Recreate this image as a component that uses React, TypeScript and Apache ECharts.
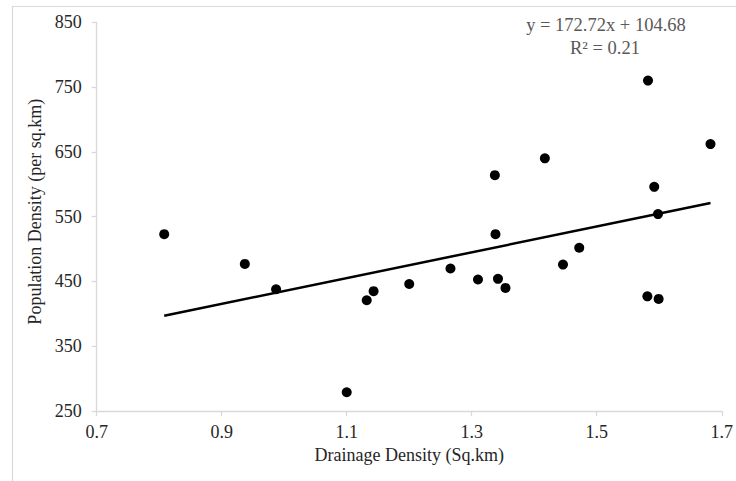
import React, { useEffect, useRef } from "react";
import * as echarts from "echarts";

const drainageDensity = [0.808, 0.937, 0.987, 1.1, 1.132, 1.143, 1.2, 1.266, 1.31, 1.337, 1.338, 1.342, 1.354, 1.417, 1.446, 1.472, 1.581, 1.582, 1.592, 1.598, 1.599, 1.682];
const populationDensity = [523, 477, 438, 279, 421, 435, 446, 470, 453, 614, 523, 454, 440, 640, 476, 502, 427, 760, 596, 554, 423, 662];
const xTicks = [0.7, 0.9, 1.1, 1.3, 1.5, 1.7];
const yTicks = [250, 350, 450, 550, 650, 750, 850];
const equationText = "y = 172.72x + 104.68";
const r2Text = "R² = 0.21";

const FONT = "'Liberation Serif', 'Times New Roman', serif";

export default function App() {
  const ref = useRef<HTMLDivElement>(null);
  useEffect(() => {
    if (!ref.current) return;
    const chart = echarts.init(ref.current, undefined, { renderer: "svg" });
    const pts = drainageDensity.map((x, i) => [x, populationDensity[i]]);
    const n = pts.length;
    const mx = drainageDensity.reduce((a, b) => a + b, 0) / n;
    const my = populationDensity.reduce((a, b) => a + b, 0) / n;
    let sxy = 0, sxx = 0;
    for (let i = 0; i < n; i++) {
      sxy += (drainageDensity[i] - mx) * (populationDensity[i] - my);
      sxx += (drainageDensity[i] - mx) ** 2;
    }
    const slope = sxy / sxx;
    const icpt = my - slope * mx;
    const xMin = Math.min(...drainageDensity);
    const xMax = Math.max(...drainageDensity);
    const trend = [[xMin, icpt + slope * xMin], [xMax, icpt + slope * xMax]];

    chart.setOption({
      animation: false,
      backgroundColor: "#ffffff",
      grid: { left: 96.7, right: 11.7, top: 22.3, bottom: 70, containLabel: false },
      xAxis: {
        type: "value",
        min: 0.7,
        max: 1.7,
        name: "Drainage Density (Sq.km)",
        nameLocation: "middle",
        nameGap: 29,
        nameTextStyle: { fontFamily: FONT, fontSize: 18, color: "#262626" },
        splitLine: { show: false },
        axisLine: { show: true, lineStyle: { color: "#d9d9d9", width: 1.3 } },
        axisTick: { show: true, length: 5, inside: false, customValues: xTicks, lineStyle: { color: "#d9d9d9", width: 1.3 } },
        axisLabel: { customValues: xTicks, margin: 12, fontFamily: FONT, fontSize: 18, color: "#262626", formatter: (v: number) => v.toFixed(1) },
      },
      yAxis: {
        type: "value",
        min: 250,
        max: 850,
        name: "Population Density (per sq.km)",
        nameLocation: "middle",
        nameGap: 48,
        nameTextStyle: { fontFamily: FONT, fontSize: 18, color: "#262626", padding: [0, 0, 0, 10] },
        splitLine: { show: false },
        axisLine: { show: true, lineStyle: { color: "#d9d9d9", width: 1.3 } },
        axisTick: { show: true, length: 5, inside: false, customValues: yTicks, lineStyle: { color: "#d9d9d9", width: 1.3 } },
        axisLabel: { customValues: yTicks, margin: 15, fontFamily: FONT, fontSize: 18, color: "#262626" },
      },
      graphic: [
        { type: "rect", shape: { x: 12.5, y: 6.5, width: 760, height: 520 }, style: { fill: "none", stroke: "#d9d9d9", lineWidth: 1.2 }, silent: true, z: -1 },
        { type: "text", x: 606, y: 25, style: { text: equationText, fontFamily: FONT, fontSize: 18.5, fill: "#595959", align: "center", verticalAlign: "middle" } },
        { type: "text", x: 605, y: 48, style: { text: r2Text, fontFamily: FONT, fontSize: 18.5, fill: "#595959", align: "center", verticalAlign: "middle" } },
      ],
      series: [
        {
          type: "line",
          data: trend,
          showSymbol: false,
          symbol: "none",
          lineStyle: { color: "#000000", width: 2.5 },
          z: 2,
        },
        {
          type: "scatter",
          data: pts,
          symbol: "circle",
          symbolSize: 10,
          itemStyle: { color: "#000000", opacity: 1 },
          z: 3,
        },
      ],
    });
    return () => chart.dispose();
  }, []);
  return <div ref={ref} style={{ position: "absolute", left: 0, top: 0, width: 736, height: 481 }} />;
}
